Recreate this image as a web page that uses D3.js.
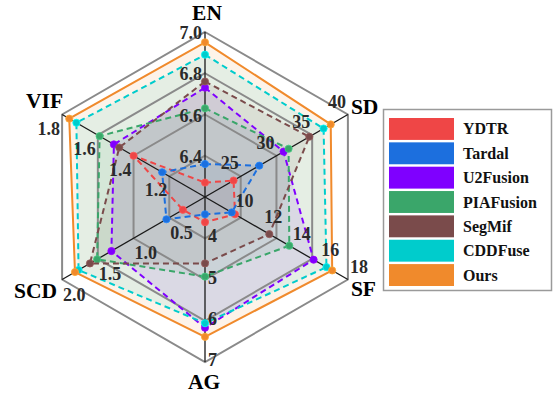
<!DOCTYPE html>
<html>
<head>
<meta charset="utf-8">
<script src="https://cdn.jsdelivr.net/npm/d3@7"></script>
<style>
  html, body { margin: 0; padding: 0; background: #fff; }
  svg { display: block; }
</style>
</head>
<body>
<svg id="chart" width="559" height="395"></svg>
<script>
// ---------- data ----------
const axesNames = ["EN", "SD", "SF", "AG", "SCD", "VIF"];
const axisMin   = [6.2, 20, 8, 3, 0, 1.0];
const axisMax   = [7.0, 40, 18, 7, 2.0, 1.8];
const tickEN  = [6.4, 6.6, 6.8, 7.0];
const tickSD  = [25, 30, 35, 40];
const tickSF  = [10, 12, 14, 16, 18];
const tickAG  = [4, 5, 6, 7];
const tickSCD = [0.5, 1.0, 1.5, 2.0];
const tickVIF = [1.2, 1.4, 1.6, 1.8];
const tickFormats = [".1f", "d", "d", "d", ".1f", ".1f"];

const methods = ["YDTR", "Tardal", "U2Fusion", "PIAFusion", "SegMif", "CDDFuse", "Ours"];
// values in axis order: EN, SD, SF, AG, SCD, VIF
const YDTR      = [6.27, 24.0, 10.1, 3.61, 0.31, 1.40];
const Tardal    = [6.36, 27.6, 9.87, 3.42, 0.54, 1.24];
const U2Fusion  = [6.73, 31.0, 15.6, 6.17, 1.31, 1.51];
const PIAFusion = [6.63, 31.7, 13.9, 4.93, 1.51, 1.59];
const SegMif    = [6.76, 34.6, 12.5, 4.61, 1.61, 1.48];
const CDDFuse   = [6.89, 36.6, 16.5, 6.06, 1.77, 1.72];
const Ours      = [6.95, 37.6, 16.9, 6.39, 1.82, 1.76];

// ---------- style ----------
const colors = ["#ef4646", "#1c6fde", "#7f00ff", "#3aa66a", "#7a4b4b", "#00cccc", "#f08a2c"];
const seriesValues = [YDTR, Tardal, U2Fusion, PIAFusion, SegMif, CDDFuse, Ours];
const allTicks = [tickEN, tickSD, tickSF, tickAG, tickSCD, tickVIF];

const cx = 205, cy = 197, R = 165, nRings = 4;
const svg = d3.select("#chart");
const font = "'Liberation Serif', 'Times New Roman', serif";

const angles = axesNames.map((_, i) => -Math.PI / 2 + i * Math.PI / 3);
const scales = axesNames.map((_, i) => d3.scaleLinear().domain([axisMin[i], axisMax[i]]).range([0, R]));
const pt = (i, r) => [cx + r * Math.cos(angles[i]), cy + r * Math.sin(angles[i])];

const g = svg.append("g");

// series fills
const line = d3.line().curve(d3.curveLinearClosed);
seriesValues.forEach((vals, s) => {
  const pts = vals.map((v, i) => pt(i, scales[i](v)));
  g.append("path").attr("d", line(pts))
    .attr("fill", colors[s]).attr("fill-opacity", 0.1).attr("stroke", "none");
});

// grid rings
const ringScale = d3.scaleLinear().domain([0, nRings]).range([0, R]);
d3.range(1, nRings + 1).forEach(k => {
  const pts = axesNames.map((_, i) => pt(i, ringScale(k)));
  g.append("path").attr("d", line(pts))
    .attr("fill", "none").attr("stroke", "#8a8a8a").attr("stroke-width", 2);
});

// spokes
axesNames.forEach((_, i) => {
  const [x, y] = pt(i, R);
  g.append("line").attr("x1", cx).attr("y1", cy).attr("x2", x).attr("y2", y)
    .attr("stroke", "#1a1a1a").attr("stroke-width", 1.3);
});

// series lines & markers
seriesValues.forEach((vals, s) => {
  const pts = vals.map((v, i) => pt(i, scales[i](v)));
  g.append("path").attr("d", line(pts))
    .attr("fill", "none").attr("stroke", colors[s]).attr("stroke-width", 2)
    .attr("stroke-dasharray", methods[s] === "Ours" ? null : "6,4");
  g.selectAll(null).data(pts).enter().append("circle")
    .attr("cx", d => d[0]).attr("cy", d => d[1]).attr("r", 3.6)
    .attr("fill", colors[s]).attr("stroke", d3.color(colors[s]).brighter(0.6)).attr("stroke-width", 0.8);
});

// tick labels
const tickOff = [
  {a: "end", dx: -3, dy: 7},
  {a: "end", dx: -2, dy: -7},
  {a: "start", dx: 2, dy: -7},
  {a: "start", dx: 3, dy: 4},
  {a: "start", dx: 1, dy: 21},
  {a: "end", dx: -2, dy: 20}
];
allTicks.forEach((ticks, i) => {
  const fmt = d3.format(tickFormats[i]);
  ticks.forEach(t => {
    const [x, y] = pt(i, scales[i](t));
    g.append("text").attr("x", x + tickOff[i].dx).attr("y", y + tickOff[i].dy)
      .attr("text-anchor", tickOff[i].a)
      .attr("font-family", font).attr("font-size", 18).attr("font-weight", "bold").attr("fill", "#2a2a2a")
      .text(fmt(t));
  });
});

// axis labels
const labOff = [
  {a: "middle", dx: 2, dy: -12},
  {a: "start", dx: 3, dy: -1},
  {a: "start", dx: 3, dy: 16},
  {a: "middle", dx: -1, dy: 27},
  {a: "end", dx: -5, dy: 18},
  {a: "end", dx: 1, dy: -7}
];
axesNames.forEach((name, i) => {
  const [x, y] = pt(i, R);
  g.append("text").attr("x", x + labOff[i].dx).attr("y", y + labOff[i].dy)
    .attr("text-anchor", labOff[i].a)
    .attr("font-family", font).attr("font-size", 21.5).attr("font-weight", "bold").attr("fill", "#000")
    .text(name);
});

// legend
const lg = svg.append("g");
lg.append("rect").attr("x", 383.5).attr("y", 109.5).attr("width", 168).attr("height", 181)
  .attr("fill", "#fff").attr("stroke", "#9a9a9a").attr("stroke-width", 1.5);
const legY = d3.scaleBand().domain(methods).range([118, 286]).paddingInner(0.1);
methods.forEach((m, s) => {
  lg.append("rect").attr("x", 389).attr("y", legY(m)).attr("width", 65).attr("height", legY.bandwidth())
    .attr("fill", colors[s]);
  lg.append("text").attr("x", 463).attr("y", legY(m) + legY.bandwidth() / 2 + 5.5)
    .attr("font-family", font).attr("font-size", 16).attr("font-weight", "bold").attr("fill", "#111")
    .text(m);
});
</script>
</body>
</html>
